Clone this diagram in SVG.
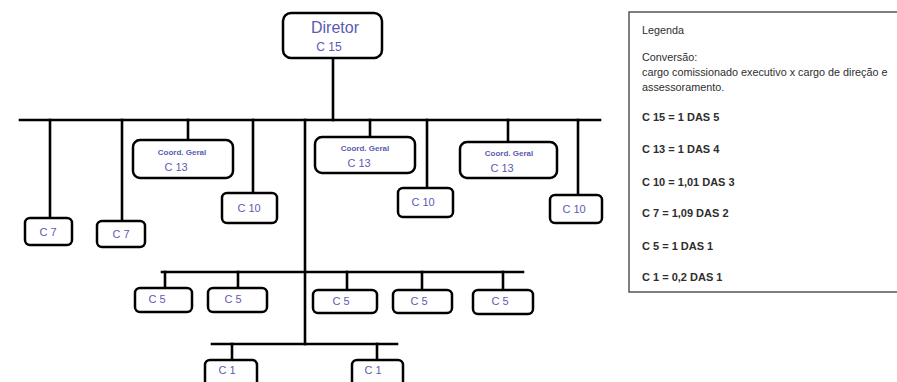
<svg xmlns="http://www.w3.org/2000/svg" width="897" height="382" viewBox="0 0 897 382">
  <style>
    .box { fill: #ffffff; stroke: #000000; stroke-width: 2.5; }
    .wire { stroke: #000000; stroke-width: 2.6; fill: none; stroke-linecap: square; }
    .lbl { font-family: "Liberation Sans", Arial, sans-serif; fill: #5b5bb0; text-anchor: middle; }
    .big { font-size: 16px; }
    .mid { font-size: 11px; }
    .tiny { font-size: 8px; font-weight: bold; }
    .leg { font-family: "Liberation Sans", Arial, sans-serif; font-size: 10.8px; fill: #2e2e2e; }
    .legb { font-family: "Liberation Sans", Arial, sans-serif; font-size: 11px; font-weight: bold; fill: #2e2e2e; }
  </style>
  <rect width="897" height="382" fill="#ffffff"/>

  <!-- connectors -->
  <g id="connectors">
    <line class="wire" x1="333" y1="58" x2="333" y2="120"/>
    <line class="wire" x1="20" y1="120" x2="600" y2="120"/>
    <line class="wire" x1="50" y1="120" x2="50" y2="218"/>
    <line class="wire" x1="122" y1="120" x2="122" y2="221"/>
    <line class="wire" x1="188" y1="120" x2="188" y2="140"/>
    <line class="wire" x1="253" y1="120" x2="253" y2="193"/>
    <line class="wire" x1="370" y1="120" x2="370" y2="137"/>
    <line class="wire" x1="427" y1="120" x2="427" y2="188"/>
    <line class="wire" x1="508" y1="120" x2="508" y2="142"/>
    <line class="wire" x1="578" y1="120" x2="578" y2="195"/>
    <line class="wire" x1="305" y1="120" x2="305" y2="344"/>
    <line class="wire" x1="162" y1="272" x2="523" y2="272"/>
    <line class="wire" x1="165" y1="272" x2="165" y2="288"/>
    <line class="wire" x1="238" y1="272" x2="238" y2="288"/>
    <line class="wire" x1="347" y1="272" x2="347" y2="290"/>
    <line class="wire" x1="422" y1="272" x2="422" y2="290"/>
    <line class="wire" x1="503" y1="272" x2="503" y2="290"/>
    <line class="wire" x1="212" y1="344" x2="397" y2="344"/>
    <line class="wire" x1="232" y1="344" x2="232" y2="360"/>
    <line class="wire" x1="377" y1="344" x2="377" y2="360"/>
  </g>

  <!-- top node -->
  <g id="diretor">
    <rect class="box" x="283" y="13" width="99" height="45" rx="8"/>
    <text class="lbl big" x="335" y="33">Diretor</text>
    <text class="lbl" x="329" y="51" font-size="12">C 15</text>
  </g>

  <!-- first level -->
  <g id="c7-a">
    <rect class="box" x="25" y="218" width="47" height="27" rx="5"/>
    <text class="lbl mid" x="48" y="236">C 7</text>
  </g>
  <g id="c7-b">
    <rect class="box" x="97" y="221" width="48" height="26" rx="5"/>
    <text class="lbl mid" x="121" y="238">C 7</text>
  </g>
  <g id="coord-1">
    <rect class="box" x="133" y="140" width="100" height="38" rx="7"/>
    <text class="lbl tiny" x="182" y="155">Coord. Geral</text>
    <text class="lbl mid" x="176" y="171">C 13</text>
  </g>
  <g id="c10-a">
    <rect class="box" x="222" y="193" width="55" height="30" rx="5"/>
    <text class="lbl mid" x="249" y="212">C 10</text>
  </g>
  <g id="coord-2">
    <rect class="box" x="315" y="137" width="100" height="36" rx="7"/>
    <text class="lbl tiny" x="365" y="151">Coord. Geral</text>
    <text class="lbl mid" x="359" y="167">C 13</text>
  </g>
  <g id="c10-b">
    <rect class="box" x="398" y="188" width="55" height="29" rx="5"/>
    <text class="lbl mid" x="423" y="206">C 10</text>
  </g>
  <g id="coord-3">
    <rect class="box" x="460" y="142" width="97" height="36" rx="7"/>
    <text class="lbl tiny" x="509" y="156">Coord. Geral</text>
    <text class="lbl mid" x="502" y="172">C 13</text>
  </g>
  <g id="c10-c">
    <rect class="box" x="550" y="195" width="52" height="28" rx="5"/>
    <text class="lbl mid" x="574" y="213">C 10</text>
  </g>

  <!-- second level -->
  <g id="c5-a">
    <rect class="box" x="135" y="288" width="57" height="24" rx="5"/>
    <text class="lbl mid" x="157" y="303">C 5</text>
  </g>
  <g id="c5-b">
    <rect class="box" x="208" y="288" width="59" height="24" rx="5"/>
    <text class="lbl mid" x="233" y="303">C 5</text>
  </g>
  <g id="c5-c">
    <rect class="box" x="313" y="290" width="64" height="23" rx="5"/>
    <text class="lbl mid" x="341" y="305">C 5</text>
  </g>
  <g id="c5-d">
    <rect class="box" x="393" y="290" width="59" height="23" rx="5"/>
    <text class="lbl mid" x="419" y="305">C 5</text>
  </g>
  <g id="c5-e">
    <rect class="box" x="473" y="290" width="60" height="24" rx="5"/>
    <text class="lbl mid" x="500" y="305">C 5</text>
  </g>

  <!-- third level -->
  <g id="c1-a">
    <rect class="box" x="205" y="360" width="52" height="30" rx="5"/>
    <text class="lbl mid" x="227" y="374">C 1</text>
  </g>
  <g id="c1-b">
    <rect class="box" x="352" y="360" width="51" height="30" rx="5"/>
    <text class="lbl mid" x="373" y="374">C 1</text>
  </g>

  <!-- legend -->
  <g id="legenda">
    <rect x="629" y="12" width="280" height="280" fill="#ffffff" stroke="#555555" stroke-width="1.5"/>
    <text class="leg" x="642" y="34">Legenda</text>
    <text class="leg" x="642" y="61">Conversão:</text>
    <text class="leg" x="642" y="76">cargo comissionado executivo x cargo de direção e</text>
    <text class="leg" x="642" y="91">assessoramento.</text>
    <text class="legb" x="642" y="121">C 15 = 1 DAS 5</text>
    <text class="legb" x="642" y="153">C 13 = 1 DAS 4</text>
    <text class="legb" x="642" y="186">C 10 = 1,01 DAS 3</text>
    <text class="legb" x="642" y="217">C 7 = 1,09 DAS 2</text>
    <text class="legb" x="642" y="250">C 5 = 1 DAS 1</text>
    <text class="legb" x="642" y="281">C 1 = 0,2 DAS 1</text>
  </g>
</svg>
